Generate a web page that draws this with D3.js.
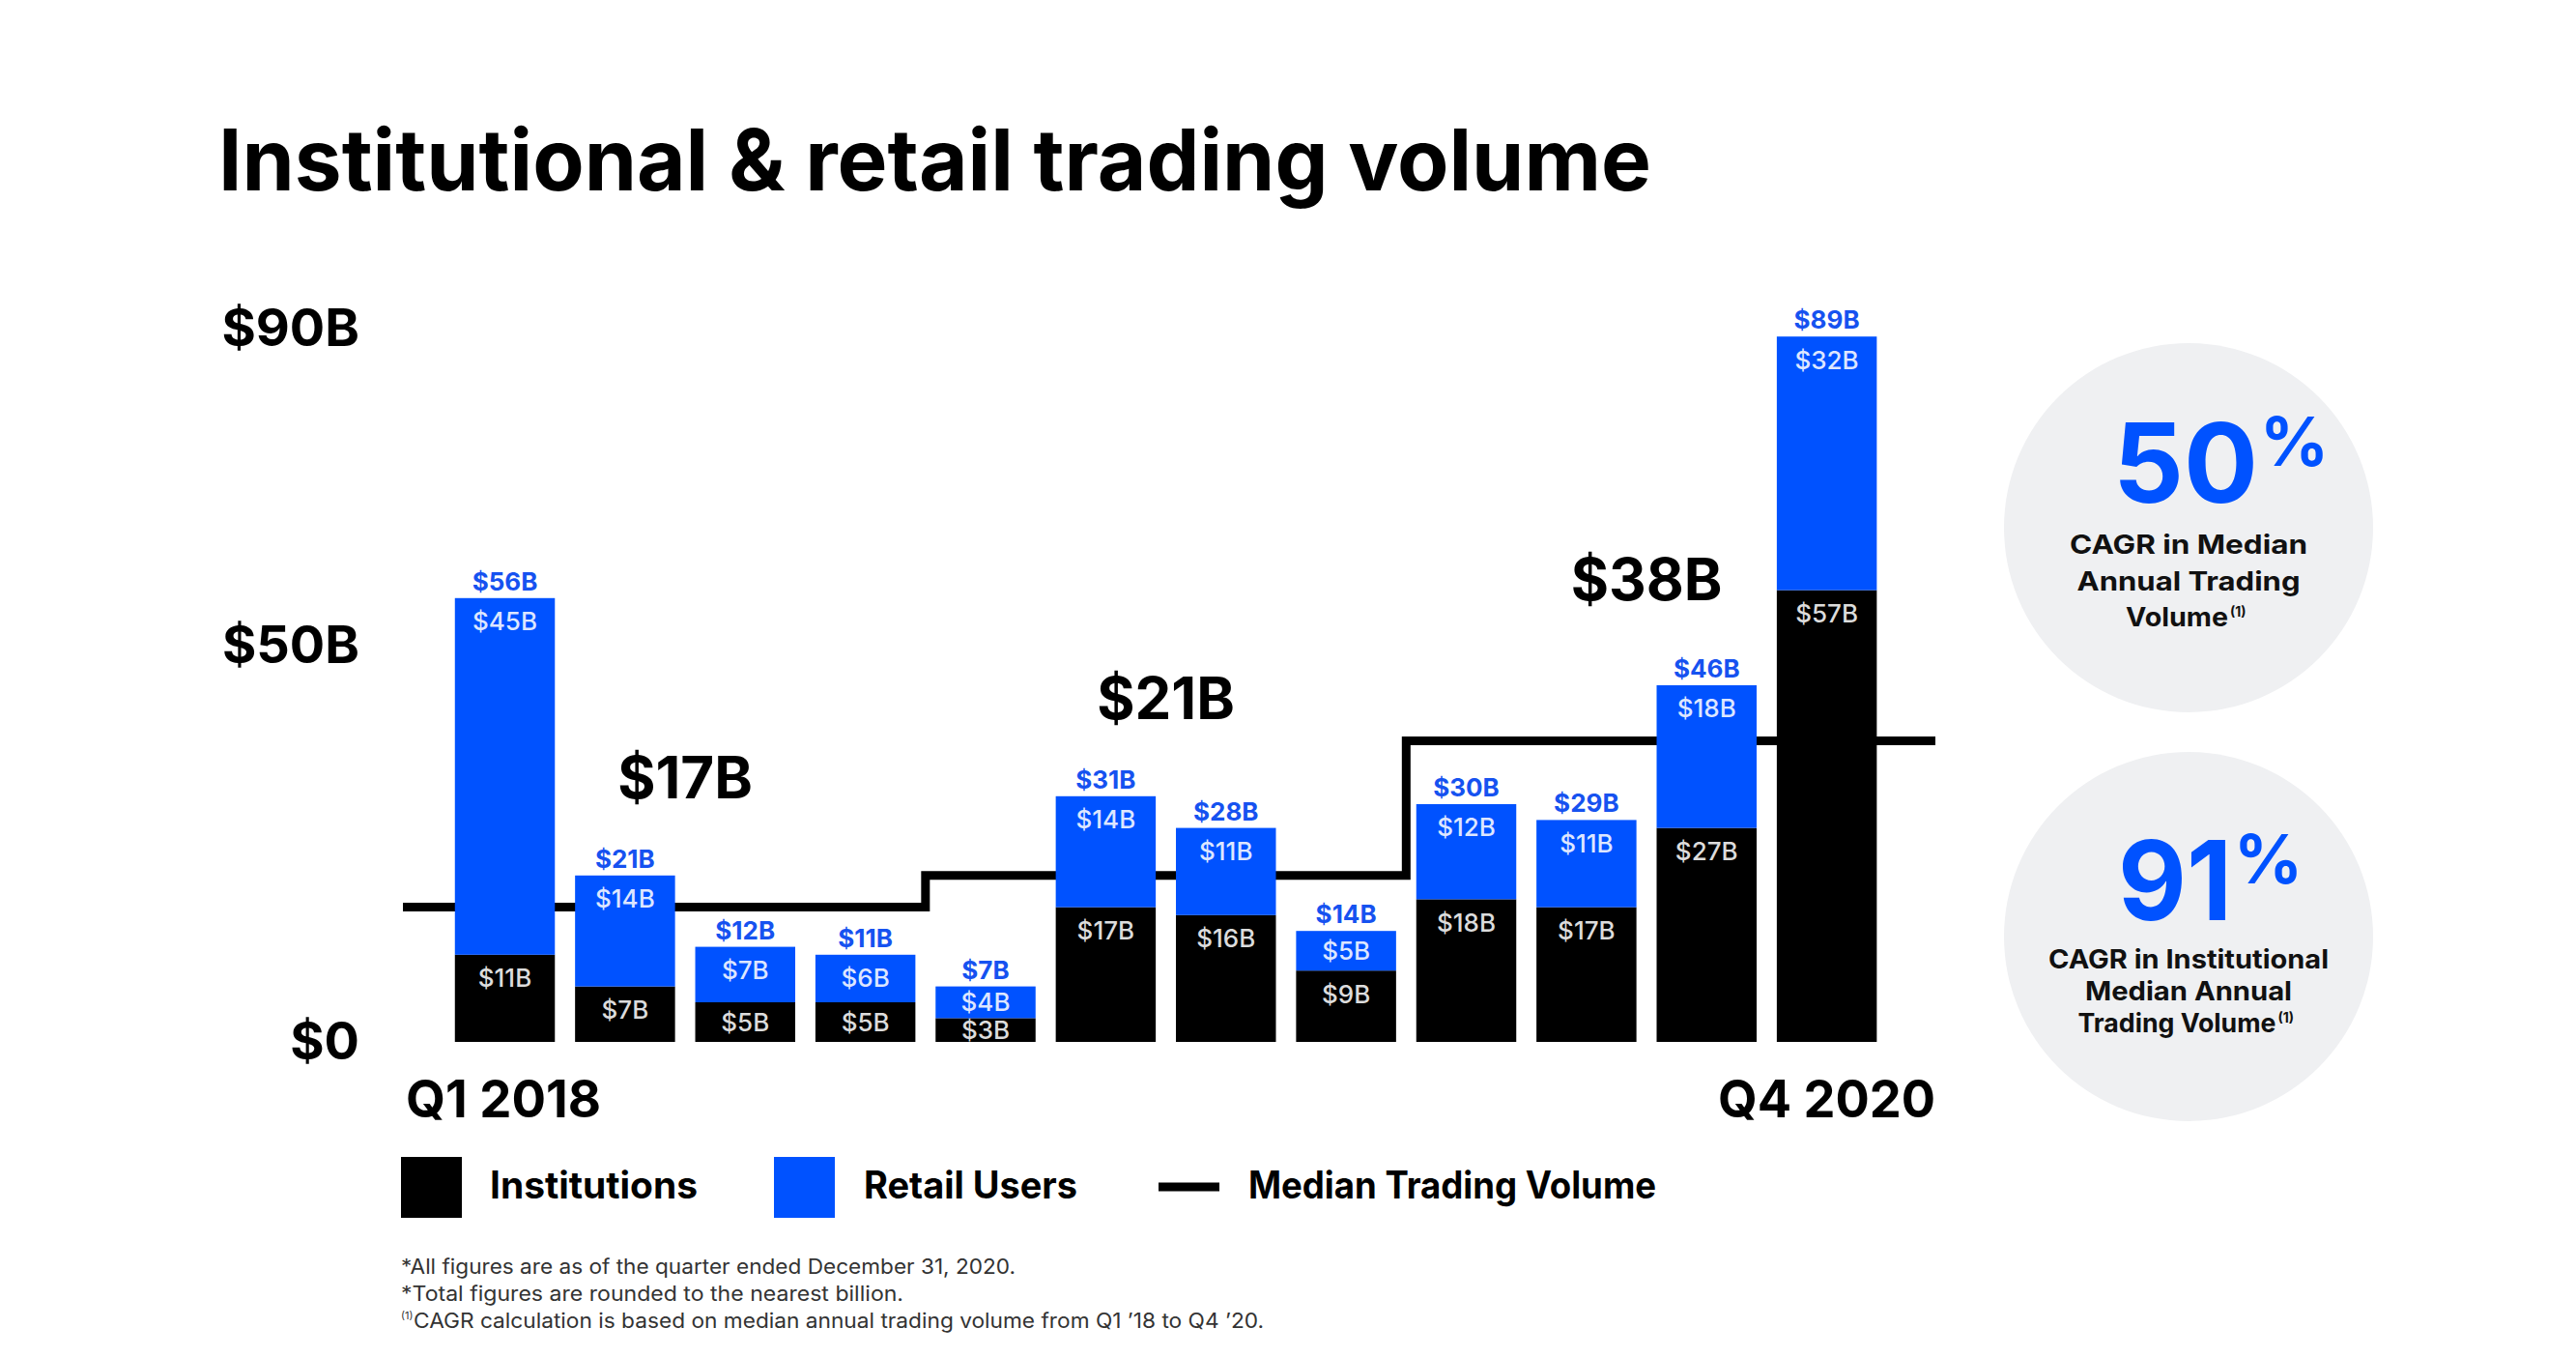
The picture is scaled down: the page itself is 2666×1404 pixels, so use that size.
<!DOCTYPE html>
<html>
<head>
<meta charset="utf-8">
<script src="https://cdn.jsdelivr.net/npm/d3@7"></script>
<style>
  html, body { margin: 0; padding: 0; background: #fff; }
  svg { display: block; }
</style>
</head>
<body>
<svg id="chart"></svg>
<script>
// values
const quarters = ['Q1 2018', 'Q2 2018', 'Q3 2018', 'Q4 2018',
                  'Q1 2019', 'Q2 2019', 'Q3 2019', 'Q4 2019',
                  'Q1 2020', 'Q2 2020', 'Q3 2020', 'Q4 2020']
const institutions = [11, 7, 5, 5, 3, 17, 16, 9, 18, 17, 27, 57]
const retailUsers = [45, 14, 7, 6, 4, 14, 11, 5, 12, 11, 18, 32]
const totals = [56, 21, 12, 11, 7, 31, 28, 14, 30, 29, 46, 89]
const years = ['2018', '2019', '2020']
const medians = [17, 21, 38]
const yTicks = [0, 50, 90]
const cagrValues = [50, 91]
const cagrLines = [
    ['CAGR in Median', 'Annual Trading', 'Volume'],
    ['CAGR in Institutional', 'Median Annual', 'Trading Volume']
]
const footnotes = [
    '*All figures are as of the quarter ended December 31, 2020.',
    '*Total figures are rounded to the nearest billion.',
    'CAGR calculation is based on median annual trading volume from Q1 \u201918 to Q4 \u201920.'
]

const W = 2666, H = 1404
const FONT = "Inter, 'Open Sans', sans-serif"
const BLUE = '#0052ff'
const money = v => v ? `$${v}B` : '$0'

const svg = d3.select('#chart')
    .attr('width', W)
    .attr('height', H)
    .attr('font-family', FONT)
svg.append('rect').attr('width', W).attr('height', H).attr('fill', '#fff')

// squeeze/stretch a label to the width it has on the slide
const fit = (sel, w) => sel.attr('textLength', w).attr('lengthAdjust', 'spacingAndGlyphs')

svg.append('text')
    .attr('x', 226).attr('y', 197)
    .attr('font-size', 88).attr('font-weight', 700)
    .text('Institutional & retail trading volume')
    .call(fit, 1483)

const x = d3.scaleBand()
    .domain(quarters)
    .range([417, 2003])
    .paddingInner(0.168)
    .paddingOuter(0.46)
    .align(0.47)
const y = d3.scaleLinear().domain([0, 90]).range([1078, 340])
const bw = x.bandwidth()

// median step line (drawn first, bars sit on top of it)
const yearOf = q => q.split(' ')[1]
const firstQ = years.map(yr => quarters.find(q => yearOf(q) === yr))
const lastQ = years.map(yr => quarters.filter(q => yearOf(q) === yr).pop())
const steps = years.map((yr, i) => [
    i === 0 ? x.range()[0] : x(firstQ[i]) - x.step() * x.paddingInner() / 2,
    y(medians[i])
])
steps.push([x.range()[1], y(medians[medians.length - 1])])

svg.append('path')
    .attr('d', d3.line().curve(d3.curveStepAfter)(steps))
    .attr('fill', 'none')
    .attr('stroke', '#000')
    .attr('stroke-width', 9)

// stacked bars
const rows = quarters.map((q, i) => ({ q, inst: institutions[i], retail: retailUsers[i] }))
const series = d3.stack().keys(['inst', 'retail'])(rows)
const fills = { inst: '#000', retail: BLUE }
const innerText = { inst: '#dcdcdc', retail: '#dde6ff' }

const layers = svg.append('g').selectAll('g')
    .data(series).enter().append('g')
    .attr('fill', s => fills[s.key])

layers.selectAll('rect')
    .data(s => s).enter().append('rect')
    .attr('x', d => x(d.data.q))
    .attr('y', d => y(d[1]))
    .attr('width', bw)
    .attr('height', d => y(d[0]) - y(d[1]))

layers.selectAll('text')
    .data(s => s.map(d => ({ d, key: s.key }))).enter().append('text')
    .attr('x', ({ d }) => x(d.data.q) + bw / 2)
    .attr('y', ({ d }) => Math.min(y(d[1]) + 24, (y(d[0]) + y(d[1])) / 2))
    .attr('dy', '0.36em')
    .attr('text-anchor', 'middle')
    .attr('font-size', 26).attr('font-weight', 500)
    .attr('fill', ({ key }) => innerText[key])
    .text(({ d, key }) => money(d.data[key]))

// totals above bars
svg.append('g').selectAll('text')
    .data(rows).enter().append('text')
    .attr('x', d => x(d.q) + bw / 2)
    .attr('y', d => y(d.inst + d.retail) - 8)
    .attr('text-anchor', 'middle')
    .attr('font-size', 26).attr('font-weight', 700)
    .attr('fill', '#1652f0')
    .text((d, i) => money(totals[i]))

// yearly median labels, centred over each year, clear of the middle bars
svg.append('g').selectAll('text')
    .data(years).enter().append('text')
    .attr('x', (yr, i) => (x(firstQ[i]) + x(lastQ[i]) + bw) / 2)
    .attr('y', (yr, i) => {
        const idx = quarters.map((q, j) => j).filter(j => yearOf(quarters[j]) === yr)
        return y(d3.max([totals[idx[1]], totals[idx[2]]])) - 80
    })
    .attr('text-anchor', 'middle')
    .attr('font-size', 60).attr('font-weight', 700)
    .text((yr, i) => money(medians[i]))

// y axis: three labels only
svg.append('g')
    .attr('transform', 'translate(372,0)')
    .call(d3.axisLeft(y).tickValues(yTicks).tickSize(0).tickPadding(0).tickFormat(money))
    .call(g => g.select('.domain').remove())
    .attr('font-family', FONT)
    .attr('font-size', 54)
    .selectAll('text')
    .attr('font-weight', 700)
    .attr('fill', '#000')

// x axis: first and last quarter
const ends = [quarters[0], quarters[quarters.length - 1]]
const endWidths = [202, 225]
svg.append('g')
    .attr('transform', 'translate(0,1078)')
    .call(d3.axisBottom(x).tickValues(ends).tickSize(0).tickPadding(40))
    .call(g => g.select('.domain').remove())
    .attr('font-family', FONT)
    .attr('font-size', 54)
    .selectAll('text')
    .attr('font-weight', 700)
    .attr('fill', '#000')
    .attr('text-anchor', (d, i) => i ? 'end' : 'start')
    .attr('x', (d, i) => (i ? x.range()[1] : x.range()[0] + 3) - (x(d) + bw / 2))
    .each(function (d, i) { fit(d3.select(this), endWidths[i]) })

// legend
const legend = svg.append('g').attr('font-size', 39).attr('font-weight', 700)
legend.append('rect').attr('x', 415).attr('y', 1197).attr('width', 63).attr('height', 63).attr('fill', '#000')
legend.append('text').attr('x', 507).attr('y', 1240).text('Institutions').call(fit, 215)
legend.append('rect').attr('x', 801).attr('y', 1197).attr('width', 63).attr('height', 63).attr('fill', BLUE)
legend.append('text').attr('x', 894).attr('y', 1240).text('Retail Users').call(fit, 221)
legend.append('line').attr('x1', 1199).attr('x2', 1262).attr('y1', 1228).attr('y2', 1228)
    .attr('stroke', '#000').attr('stroke-width', 9)
legend.append('text').attr('x', 1292).attr('y', 1240).text('Median Trading Volume').call(fit, 422)

// CAGR circles
const circles = [
    { cx: 2262, cy: 546, numDy: -26, numW: 150, lineDy: 27, gap: 37.5, widths: [246, 231, 106] },
    { cx: 2251, cy: 969, numDy: -17, numW: 118, lineDy: 33, gap: 33, widths: [290, 214, 205] }
]
circles.forEach((c, i) => {
    const g = svg.append('g')
    g.append('circle').attr('cx', 2265).attr('cy', c.cy).attr('r', 191).attr('fill', '#eff0f2')
    g.append('text')
        .attr('x', c.cx).attr('y', c.cy + c.numDy)
        .attr('text-anchor', 'middle')
        .attr('font-size', 114).attr('font-weight', 700)
        .attr('fill', BLUE)
        .text(cagrValues[i])
        .call(fit, c.numW)
    g.append('text')
        .attr('x', c.cx + c.numW / 2 + 2).attr('y', c.cy + c.numDy - 38)
        .attr('font-size', 70).attr('font-weight', 700)
        .attr('fill', BLUE)
        .text('%')
    cagrLines[i].forEach((line, k) => {
        const last = k === cagrLines[i].length - 1
        g.append('text')
            .attr('x', last ? 2253 : 2265).attr('y', c.cy + c.lineDy + k * c.gap)
            .attr('text-anchor', 'middle')
            .attr('font-size', 27).attr('font-weight', 700)
            .attr('fill', '#111')
            .text(line)
            .call(fit, c.widths[k])
        if (last) {
            g.append('text')
                .attr('x', 2253 + c.widths[k] / 2 + 2).attr('y', c.cy + c.lineDy + k * c.gap - 10)
                .attr('font-size', 14).attr('font-weight', 700)
                .attr('fill', '#111')
                .text('(1)')
        }
    })
})

// footnotes
const notes = svg.append('g').attr('font-size', 21).attr('fill', '#333')
const noteWidths = [636, 520, 880]
footnotes.forEach((n, i) => {
    notes.append('text')
        .attr('x', i === 2 ? 428 : 415).attr('y', 1318 + i * 28)
        .text(n)
        .call(fit, noteWidths[i])
})
notes.append('text').attr('x', 415).attr('y', 1318 + 2 * 28 - 9).attr('font-size', 11).text('(1)')
</script>
</body>
</html>
